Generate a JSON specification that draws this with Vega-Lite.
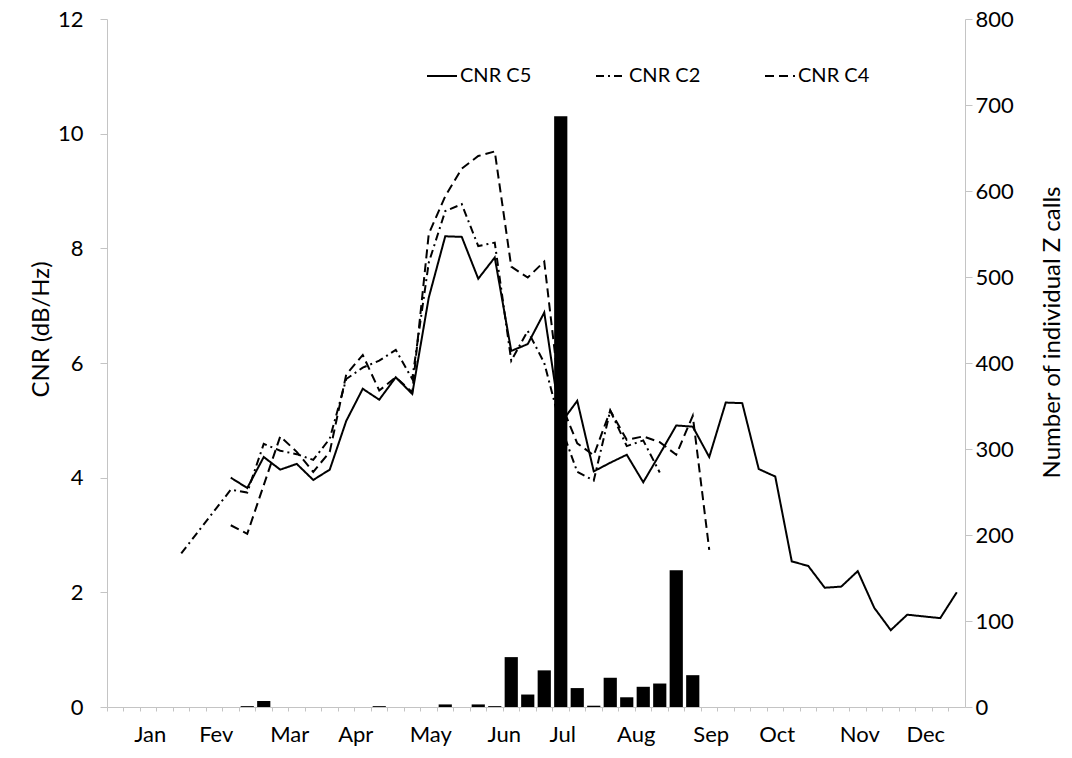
{
  "$schema": "https://vega.github.io/schema/vega-lite/v6.json",
  "width": 858,
  "height": 688,
  "autosize": {"type": "none"},
  "padding": {"left": 107, "top": 19, "right": 107, "bottom": 51},
  "background": "white",
  "config": {
    "font": "Lato",
    "view": {"stroke": null},
    "axis": {
      "grid": false,
      "domainColor": "#c4c4c4",
      "tickColor": "#c4c4c4",
      "labelColor": "#000",
      "titleColor": "#000",
      "labelFont": "Lato",
      "titleFont": "Lato",
      "labelFontSize": 22,
      "titleFontSize": 24,
      "titleFontWeight": "normal"
    }
  },
  "data": {
    "values": [
      {"week": 5, "c2": 2.68},
      {"week": 6, "c2": 3.05},
      {"week": 7, "c2": 3.42},
      {"week": 8, "c5": 4.0, "c2": 3.79, "c4": 3.17},
      {"week": 9, "calls": 1, "c5": 3.82, "c2": 3.74, "c4": 3.02},
      {"week": 10, "calls": 7, "c5": 4.36, "c2": 4.59, "c4": 3.87},
      {"week": 11, "c5": 4.14, "c2": 4.47, "c4": 4.72},
      {"week": 12, "c5": 4.24, "c2": 4.41, "c4": 4.45},
      {"week": 13, "c5": 3.96, "c2": 4.31, "c4": 4.1},
      {"week": 14, "c5": 4.14, "c2": 4.68, "c4": 4.45},
      {"week": 15, "c5": 4.99, "c2": 5.72, "c4": 5.8},
      {"week": 16, "c5": 5.55, "c2": 5.92, "c4": 6.14},
      {"week": 17, "calls": 1, "c5": 5.36, "c2": 6.04, "c4": 5.52},
      {"week": 18, "c5": 5.75, "c2": 6.23, "c4": 5.75},
      {"week": 19, "c5": 5.46, "c2": 5.72, "c4": 5.49},
      {"week": 20, "c5": 7.14, "c2": 7.75, "c4": 8.25},
      {"week": 21, "calls": 3, "c5": 8.21, "c2": 8.65, "c4": 8.91},
      {"week": 22, "c5": 8.2, "c2": 8.77, "c4": 9.39},
      {"week": 23, "calls": 3, "c5": 7.47, "c2": 8.04, "c4": 9.61},
      {"week": 24, "calls": 1, "c5": 7.84, "c2": 8.1, "c4": 9.69},
      {"week": 25, "calls": 58, "c5": 6.21, "c2": 6.04, "c4": 7.68},
      {"week": 26, "calls": 14.5, "c5": 6.33, "c2": 6.56, "c4": 7.49},
      {"week": 27, "calls": 42.6, "c5": 6.88, "c2": 6.0, "c4": 7.77},
      {"week": 28, "calls": 687, "c5": 4.95, "c2": 4.9, "c4": 5.3},
      {"week": 29, "calls": 22, "c5": 5.34, "c2": 4.1, "c4": 4.6},
      {"week": 30, "calls": 1.5, "c5": 4.11, "c2": 3.95, "c4": 4.39},
      {"week": 31, "calls": 34, "c5": 4.26, "c2": 5.17, "c4": 5.17},
      {"week": 32, "calls": 11.3, "c5": 4.4, "c2": 4.55, "c4": 4.66},
      {"week": 33, "calls": 23.5, "c5": 3.92, "c2": 4.65, "c4": 4.72},
      {"week": 34, "calls": 27.3, "c5": 4.41, "c2": 4.09, "c4": 4.62},
      {"week": 35, "calls": 159, "c5": 4.91, "c4": 4.4},
      {"week": 36, "calls": 37, "c5": 4.89, "c4": 5.08},
      {"week": 37, "c5": 4.36, "c4": 2.74},
      {"week": 38, "c5": 5.31},
      {"week": 39, "c5": 5.3},
      {"week": 40, "c5": 4.15},
      {"week": 41, "c5": 4.02},
      {"week": 42, "c5": 2.54},
      {"week": 43, "c5": 2.46},
      {"week": 44, "c5": 2.08},
      {"week": 45, "c5": 2.1},
      {"week": 46, "c5": 2.37},
      {"week": 47, "c5": 1.73},
      {"week": 48, "c5": 1.34},
      {"week": 49, "c5": 1.61},
      {"week": 50, "c5": 1.58},
      {"week": 51, "c5": 1.55},
      {"week": 52, "c5": 2.0}
    ]
  },
  "layer": [
    {
      "mark": {"type": "bar", "color": "#000", "width": {"band": 0.8}},
      "encoding": {
        "x": {
          "field": "week",
          "type": "ordinal",
          "scale": {
            "domain": [1, 2, 3, 4, 5, 6, 7, 8, 9, 10, 11, 12, 13, 14, 15, 16, 17, 18, 19, 20, 21, 22, 23, 24, 25, 26, 27, 28, 29, 30, 31, 32, 33, 34, 35, 36, 37, 38, 39, 40, 41, 42, 43, 44, 45, 46, 47, 48, 49, 50, 51, 52],
            "paddingInner": 0,
            "paddingOuter": 0
          },
          "axis": {"orient": "bottom", "bandPosition": 0, "labels": false, "tickSize": 4, "title": null}
        },
        "y": {
          "field": "calls",
          "type": "quantitative",
          "scale": {"domain": [0, 800]},
          "axis": {
            "orient": "right",
            "values": [0, 100, 200, 300, 400, 500, 600, 700, 800],
            "tickSize": 7,
            "labelPadding": 3,
            "title": "Number of individual Z calls",
            "titleAngle": 270,
            "titleBaseline": "top",
            "titlePadding": 27,
            "titleY": 313
          }
        }
      }
    },
    {
      "transform": [
        {"fold": ["c5", "c2", "c4"], "as": ["series", "cnr"]},
        {"filter": "isValid(datum.cnr)"}
      ],
      "mark": {"type": "line", "color": "#000", "strokeWidth": 2},
      "encoding": {
        "x": {
          "field": "week",
          "type": "ordinal",
          "axis": {
            "orient": "bottom",
            "values": [3, 7, 12, 16, 20, 25, 28, 33, 37, 41, 46, 50],
            "labelExpr": "{'3':'Jan','7':'Fev','12':'Mar','16':'Apr','20':'May','25':'Jun','28':'Jul','33':'Aug','37':'Sep','41':'Oct','46':'Nov','50':'Dec'}[datum.label]",
            "labelAngle": 0,
            "labelOverlap": false,
            "ticks": false,
            "domain": false,
            "labelPadding": 17,
            "labelOffset": {"condition": {"test": "indexof([12, 16, 25, 33], datum.value) >= 0", "value": -7}, "value": 2},
            "title": null
          }
        },
        "y": {
          "field": "cnr",
          "type": "quantitative",
          "scale": {"domain": [0, 12]},
          "axis": {
            "orient": "left",
            "values": [0, 2, 4, 6, 8, 10, 12],
            "tickSize": 7,
            "labelPadding": 17,
            "title": "CNR (dB/Hz)",
            "titlePadding": 4,
            "titleY": 310
          }
        },
        "strokeDash": {
          "field": "series",
          "type": "nominal",
          "scale": {"domain": ["c5", "c2", "c4"], "range": [[1, 0], [8, 4, 2, 4], [9, 5]]},
          "legend": {
            "orient": "none",
            "legendX": 319,
            "legendY": 41,
            "direction": "horizontal",
            "title": null,
            "symbolType": "stroke",
            "symbolSize": 900,
            "symbolStrokeWidth": 2,
            "symbolStrokeColor": "#000",
            "labelFont": "Lato",
            "labelFontSize": 20,
            "labelColor": "#000",
            "labelOffset": 2,
            "columnPadding": 60,
            "labelExpr": "'CNR ' + upper(datum.label)"
          }
        }
      }
    }
  ],
  "resolve": {"scale": {"y": "independent"}, "axis": {"x": "independent"}}
}
